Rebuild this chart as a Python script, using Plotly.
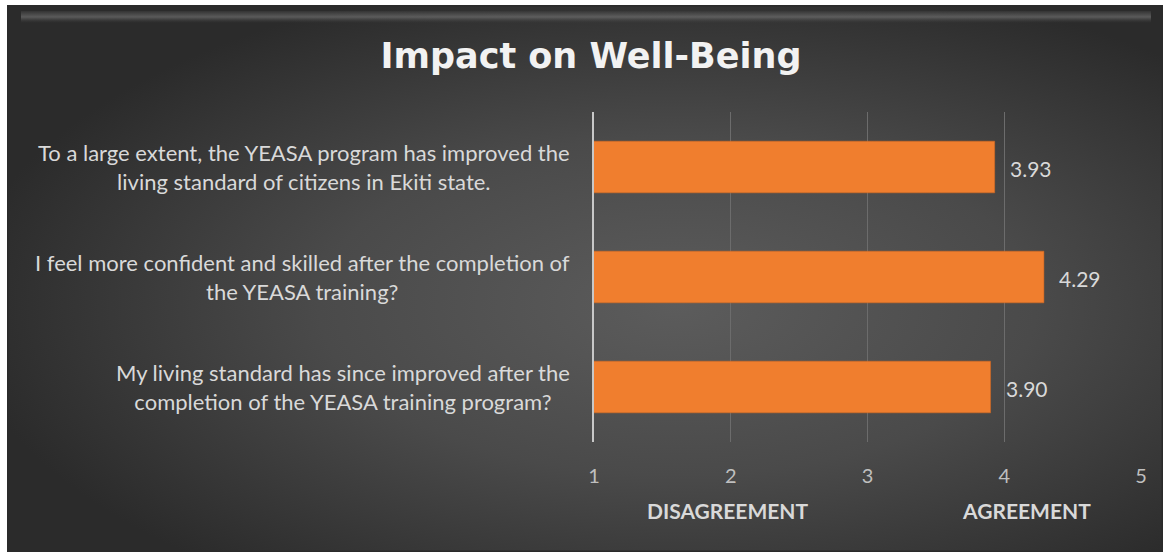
import base64
import plotly.graph_objects as go

categories = [
    "To a large extent, the YEASA program has improved the<br>living standard of citizens in Ekiti state.",
    "I feel more confident and skilled after the completion of<br>the YEASA training?",
    "My living standard has since improved after the<br>completion of the YEASA training program?",
]
values = [3.93, 4.29, 3.90]
tick_vals = [1, 2, 3, 4, 5]
tick_text = ["1", "2", "3", "4", "5"]
band_labels = ["DISAGREEMENT", "AGREEMENT"]
band_pos = [1.98, 4.16]

W, H = 1169, 556
L, R, T, B = 594, 28, 112, 114
pw, ph = W - L - R, H - T - B

svg = """<svg xmlns='http://www.w3.org/2000/svg' width='1156' height='547' viewBox='0 0 1156 547' preserveAspectRatio='none'>
<defs>
<radialGradient id='g' cx='0.58' cy='0.55' r='0.62' gradientUnits='objectBoundingBox'>
<stop offset='0' stop-color='#5c5c5c'/><stop offset='0.5' stop-color='#4a4a4a'/><stop offset='1' stop-color='#2b2b2b'/>
</radialGradient>
<linearGradient id='tb' x1='0' y1='0' x2='0' y2='1'>
<stop offset='0' stop-color='#3a3a3a'/><stop offset='0.5' stop-color='#7a7a7a'/><stop offset='1' stop-color='#4a4a4a' stop-opacity='0'/>
</linearGradient>
</defs>
<rect width='1156' height='547' fill='url(#g)'/>
<rect x='14' y='6' width='1130' height='12' fill='url(#tb)' opacity='0.6'/>
<rect x='0.5' y='0.5' width='1155' height='546' fill='none' stroke='#2a2a2a' stroke-width='2'/>
</svg>"""
src = "data:image/svg+xml;base64," + base64.b64encode(svg.encode()).decode()

fig = go.Figure()
fig.add_trace(go.Bar(
    y=list(range(len(categories))), x=values, orientation="h",
    marker=dict(color="#F07E2E", line=dict(color="#D9691E", width=0.5)),
    hoverinfo="skip",
))

bx0, bx1, by0, by1 = 7, 1163, 5, 552
fig.add_layout_image(dict(
    source=src, xref="paper", yref="paper",
    x=(bx0 - L) / pw, y=(H - B - by0) / ph,
    sizex=(bx1 - bx0) / pw, sizey=(by1 - by0) / ph,
    xanchor="left", yanchor="top", sizing="stretch", layer="below",
))

anns = []
for i, lab in enumerate(categories):
    anns.append(dict(
        x=0, xref="paper", y=i, yref="y", text=lab, showarrow=False,
        xanchor="right", yanchor="middle", align="center", xshift=-22,
        font=dict(family="Lato", size=22, color="#D9D9D9"),
    ))
for i, v in enumerate(values):
    anns.append(dict(
        x=v, xref="x", y=i, yref="y", text=f"{v:.2f}", showarrow=False,
        xanchor="left", yanchor="middle", xshift=13, yshift=-1,
        font=dict(family="Lato", size=21, color="#D9D9D9"),
    ))
for lab, pos in zip(band_labels, band_pos):
    anns.append(dict(
        x=pos, xref="x", y=(H - B - 511) / ph, yref="paper", text=f"<b>{lab}</b>",
        showarrow=False, xanchor="center", yanchor="middle",
        font=dict(family="Lato", size=21, color="#D9D9D9"),
    ))

fig.update_layout(
    width=W, height=H,
    margin=dict(l=L, r=R, t=T, b=B, pad=0),
    paper_bgcolor="white", plot_bgcolor="rgba(0,0,0,0)",
    showlegend=False, bargap=0.53,
    title=dict(text="<b>Impact on Well-Being</b>", x=591 / W, xanchor="center",
               y=1 - 56 / H, yanchor="middle", yref="container",
               font=dict(family="DejaVu Sans", size=35, color="#F2F2F2")),
    xaxis=dict(range=[1, 5], tickvals=tick_vals, ticktext=tick_text,
               showgrid=True, gridcolor="#6c6c6c", gridwidth=1, zeroline=False,
               showline=False, ticks="", ticklabelstandoff=20,
               tickfont=dict(family="Lato", size=20, color="#BFBFBF")),
    yaxis=dict(range=[2.5, -0.5], showticklabels=False, showgrid=False,
               zeroline=False, showline=True, linecolor="#C8C8C8", linewidth=2,
               ticks=""),
    annotations=anns,
)

fig.write_html("out.html", config={"displayModeBar": False},
               post_script="document.body.style.margin='0';")
